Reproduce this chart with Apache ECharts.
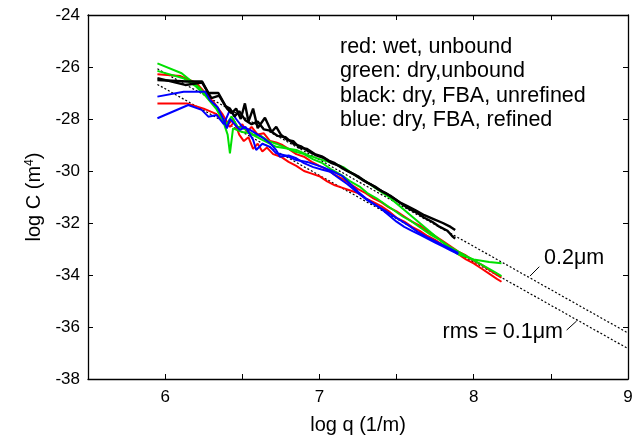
<!DOCTYPE html>
<html>
<head>
<meta charset="utf-8">
<script src="https://cdn.jsdelivr.net/npm/echarts@6/dist/echarts.min.js"></script>
<style>html,body{margin:0;padding:0;background:#fff}#c{width:638px;height:442px}</style>
</head>
<body>
<div id="c"></div>
<script>
// ---- data (log q, log C) ----
const xTicks = [6, 7, 8, 9];
const yTicks = [-24, -26, -28, -30, -32, -34, -36, -38];

const redWet1 = [[5.95,-26.28],[6.1,-26.35],[6.2,-26.6],[6.26,-27.0],[6.32,-27.4],[6.37,-27.8],[6.41,-28.2],[6.44,-28.0],[6.47,-28.4],[6.5,-28.2],[6.53,-28.5],[6.56,-28.3],[6.6,-28.6],[6.64,-28.55],[6.68,-28.85],[6.72,-28.9],[6.76,-29.0],[6.8,-29.15],[6.85,-29.35],[6.9,-29.45],[6.95,-29.65],[7.0,-29.8],[7.05,-29.95],[7.1,-30.15],[7.15,-30.3],[7.2,-30.5],[7.25,-30.7],[7.3,-30.85],[7.35,-31.05],[7.4,-31.2],[7.45,-31.4],[7.5,-31.55],[7.55,-31.75],[7.6,-31.95],[7.65,-32.1],[7.7,-32.3],[7.75,-32.5],[7.8,-32.7],[7.85,-32.9],[7.9,-33.1],[7.95,-33.25],[8.0,-33.45],[8.05,-33.6],[8.1,-33.8],[8.15,-34.0],[8.18,-34.1]];
const redWet2 = [[5.95,-27.4],[6.14,-27.4],[6.25,-27.6],[6.33,-27.8],[6.38,-28.1],[6.42,-28.3],[6.45,-28.1],[6.48,-28.6],[6.51,-28.85],[6.54,-28.7],[6.57,-29.15],[6.6,-28.95],[6.63,-29.25],[6.66,-29.1],[6.7,-29.35],[6.75,-29.45],[6.8,-29.65],[6.85,-29.8],[6.9,-30.0],[6.95,-30.1],[7.0,-30.2],[7.05,-30.4],[7.1,-30.55],[7.15,-30.65],[7.2,-30.75],[7.25,-30.85],[7.3,-31.05],[7.35,-31.2],[7.4,-31.35],[7.45,-31.55],[7.5,-31.8],[7.55,-31.95],[7.6,-32.15],[7.65,-32.3],[7.7,-32.5],[7.75,-32.65],[7.8,-32.85],[7.85,-33.0],[7.9,-33.2],[7.95,-33.4],[8.0,-33.55],[8.05,-33.75],[8.1,-33.95],[8.15,-34.15],[8.18,-34.26]];
const greenDry1 = [[5.95,-25.86],[6.107,-26.24],[6.226,-26.82],[6.334,-27.59],[6.377,-28.1],[6.405,-28.6],[6.42,-29.32],[6.44,-28.36],[6.5,-28.5],[6.55,-28.55],[6.63,-28.8],[6.72,-29.07],[6.85,-29.19],[6.93,-29.4],[7.02,-29.58],[7.09,-29.7],[7.155,-29.85],[7.24,-30.2],[7.3,-30.4],[7.35,-30.6],[7.4,-30.8],[7.45,-31.0],[7.5,-31.25],[7.55,-31.5],[7.6,-31.75],[7.65,-32.0],[7.7,-32.25],[7.75,-32.5],[7.8,-32.75],[7.85,-33.0],[7.9,-33.2],[7.95,-33.3],[8.0,-33.4],[8.05,-33.45],[8.1,-33.5],[8.18,-33.55]];
const greenDry2 = [[5.95,-26.15],[6.118,-26.43],[6.2,-26.75],[6.26,-27.1],[6.33,-27.6],[6.37,-28.0],[6.4,-28.2],[6.43,-27.9],[6.47,-28.3],[6.52,-28.4],[6.57,-28.6],[6.62,-28.65],[6.67,-28.85],[6.72,-28.95],[6.78,-29.1],[6.84,-29.25],[6.9,-29.35],[6.96,-29.55],[7.02,-29.7],[7.08,-29.95],[7.14,-30.15],[7.2,-30.4],[7.26,-30.6],[7.31,-30.85],[7.37,-31.05],[7.43,-31.3],[7.48,-31.5],[7.54,-31.75],[7.6,-31.95],[7.66,-32.2],[7.72,-32.45],[7.78,-32.65],[7.84,-32.9],[7.9,-33.1],[7.96,-33.3],[8.02,-33.5],[8.08,-33.7],[8.14,-33.9],[8.18,-34.04]];
const blueRefined1 = [[5.95,-27.14],[6.12,-26.95],[6.26,-26.95],[6.29,-27.27],[6.34,-27.55],[6.38,-28.04],[6.4,-28.36],[6.42,-28.0],[6.45,-28.2],[6.485,-28.42],[6.52,-28.3],[6.57,-28.8],[6.59,-29.19],[6.63,-28.95],[6.68,-29.07],[6.72,-29.32],[6.78,-29.4],[6.85,-29.58],[6.92,-29.65],[7.02,-29.85],[7.08,-30.0],[7.15,-30.2],[7.2,-30.5],[7.25,-30.8],[7.3,-31.05],[7.35,-31.25],[7.4,-31.45],[7.45,-31.7],[7.5,-31.95],[7.55,-32.15],[7.6,-32.3],[7.65,-32.45],[7.7,-32.6],[7.75,-32.75],[7.8,-32.9],[7.85,-33.05],[7.9,-33.2]];
const blueRefined2 = [[5.95,-27.97],[6.15,-27.46],[6.237,-27.65],[6.28,-27.91],[6.334,-27.85],[6.38,-28.2],[6.42,-27.65],[6.46,-28.0],[6.5,-28.3],[6.55,-28.42],[6.6,-28.6],[6.64,-28.75],[6.68,-28.93],[6.72,-29.2],[6.744,-29.45],[6.8,-29.4],[6.85,-29.51],[6.9,-29.7],[6.96,-29.85],[7.02,-29.95],[7.07,-30.03],[7.12,-30.25],[7.18,-30.5],[7.24,-30.8],[7.31,-31.12],[7.36,-31.3],[7.42,-31.5],[7.47,-31.7],[7.52,-31.88],[7.58,-32.1],[7.64,-32.35],[7.7,-32.55],[7.75,-32.7],[7.8,-32.85],[7.85,-33.0],[7.9,-33.15]];
const blackUnrefined1 = [[5.95,-26.5],[6.14,-26.56],[6.24,-26.56],[6.28,-27.0],[6.345,-27.0],[6.4,-27.59],[6.43,-27.78],[6.46,-27.6],[6.49,-28.0],[6.517,-27.4],[6.54,-28.1],[6.57,-27.6],[6.6,-28.35],[6.647,-27.95],[6.69,-28.5],[6.72,-28.3],[6.75,-28.6],[6.79,-28.8],[6.83,-28.85],[6.87,-29.1],[6.92,-29.15],[6.97,-29.35],[7.02,-29.45],[7.06,-29.6],[7.1,-29.7],[7.15,-29.9],[7.2,-30.05],[7.25,-30.2],[7.31,-30.45],[7.36,-30.6],[7.41,-30.8],[7.46,-30.95],[7.52,-31.2],[7.57,-31.35],[7.62,-31.5],[7.68,-31.7],[7.74,-31.85],[7.8,-32.0],[7.85,-32.15],[7.88,-32.27]];
const blackUnrefined2 = [[5.95,-26.43],[6.13,-26.69],[6.24,-26.6],[6.27,-26.9],[6.3,-27.2],[6.35,-27.1],[6.39,-27.5],[6.42,-27.6],[6.45,-27.9],[6.48,-27.7],[6.52,-28.05],[6.56,-28.2],[6.6,-28.1],[6.64,-28.4],[6.68,-28.45],[6.73,-28.65],[6.78,-28.7],[6.83,-28.95],[6.88,-29.05],[6.93,-29.25],[6.98,-29.4],[7.03,-29.5],[7.08,-29.7],[7.13,-29.8],[7.18,-30.0],[7.23,-30.15],[7.28,-30.35],[7.33,-30.5],[7.38,-30.7],[7.43,-30.85],[7.48,-31.05],[7.53,-31.25],[7.58,-31.45],[7.63,-31.6],[7.68,-31.8],[7.73,-31.95],[7.78,-32.15],[7.83,-32.3],[7.86,-32.5],[7.88,-32.6]];

// self-affine fit lines (dotted)
const fitRms02 = [[5.95,-26.07],[9.0,-36.23]];
const fitRms01 = [[5.95,-26.67],[9.0,-36.83]];
// leader lines from labels to fit lines
const leader02 = [[8.365,-34.04],[8.425,-33.68]];
const leader01 = [[8.667,-35.77],[8.602,-36.12]];

const legendLines = ['red: wet, unbound','green: dry,unbound','black: dry, FBA, unrefined','blue: dry, FBA, refined'];
const label02 = '0.2\u03bcm';
const label01 = 'rms = 0.1\u03bcm';

const FONT = '"Liberation Sans", Arial, Helvetica, sans-serif';
const chart = echarts.init(document.getElementById('c'));

function curve(data, color, width) {
  return { type:'line', data, showSymbol:false, symbol:'none', lineStyle:{color, width}, silent:true, animation:false, clip:true, z:3 };
}
function dotted(data) {
  return { type:'line', data, showSymbol:false, symbol:'none', lineStyle:{color:'#000', width:1.2, type:[2,2]}, silent:true, animation:false, z:2 };
}
function leader(data) {
  return { type:'line', data, showSymbol:false, symbol:'none', lineStyle:{color:'#000', width:1}, silent:true, animation:false, z:2 };
}

const axisLine = {show:true, onZero:false, lineStyle:{color:'#000', width:1.3}};
const option = {
  animation:false,
  backgroundColor:'#fff',
  grid:{left:88, right:10, top:15, bottom:63, containLabel:false},
  xAxis:[
    {type:'value', min:5.5, max:9, interval:0.5, position:'bottom',
     axisLine, axisTick:{show:true, inside:true, length:5, lineStyle:{color:'#000'}},
     splitLine:{show:false},
     axisLabel:{color:'#000', fontSize:17, fontFamily:FONT, margin:10,
       formatter:v => xTicks.indexOf(v) >= 0 ? String(v) : ''},
     name:'log q (1/m)', nameLocation:'middle', nameGap:36,
     nameTextStyle:{color:'#000', fontSize:20, fontFamily:FONT}},
    {type:'value', min:5.5, max:9, interval:0.5, position:'top',
     axisLine, axisTick:{show:true, inside:true, length:5, lineStyle:{color:'#000'}},
     splitLine:{show:false}, axisLabel:{show:false}}
  ],
  yAxis:[
    {type:'value', min:-38, max:-24, interval:2, position:'left',
     axisLine, axisTick:{show:true, inside:true, length:5, lineStyle:{color:'#000'}},
     splitLine:{show:false},
     axisLabel:{color:'#000', fontSize:17, fontFamily:FONT, margin:8,
       formatter:v => yTicks.indexOf(v) >= 0 ? String(v) : ''},
     name:'log C (m{sup|4})', nameLocation:'middle', nameGap:42, nameRotate:90,
     nameTextStyle:{color:'#000', fontSize:20, fontFamily:FONT,
       rich:{sup:{fontSize:12, fontFamily:FONT, color:'#000', verticalAlign:'top', padding:[0,0,10,0]}}}},
    {type:'value', min:-38, max:-24, interval:2, position:'right',
     axisLine, axisTick:{show:true, inside:true, length:5, lineStyle:{color:'#000'}},
     splitLine:{show:false}, axisLabel:{show:false}}
  ],
  series:[
    dotted(fitRms02), dotted(fitRms01), leader(leader02), leader(leader01),
    curve(redWet1,'#ff0000',2), curve(redWet2,'#ff0000',2),
    curve(greenDry1,'#00e000',2), curve(greenDry2,'#00e000',2),
    curve(blueRefined1,'#0000ff',2), curve(blueRefined2,'#0000ff',2),
    curve(blackUnrefined1,'#000000',2.4), curve(blackUnrefined2,'#000000',2.4)
  ],
  graphic:[]
};
chart.setOption(option);

const g = legendLines.map((t,i) => ({
  type:'text', left:340, top:36 + i*24.5,
  style:{text:t, fill:'#000', font:'21.5px ' + FONT}, z:10
}));
g.push({type:'text', left:544, top:247, style:{text:label02, fill:'#000', font:'21.5px ' + FONT}, z:10});
g.push({type:'text', right:638-563, top:321, style:{text:label01, fill:'#000', font:'21.5px ' + FONT}, z:10});
chart.setOption({graphic:g});
</script>
</body>
</html>
